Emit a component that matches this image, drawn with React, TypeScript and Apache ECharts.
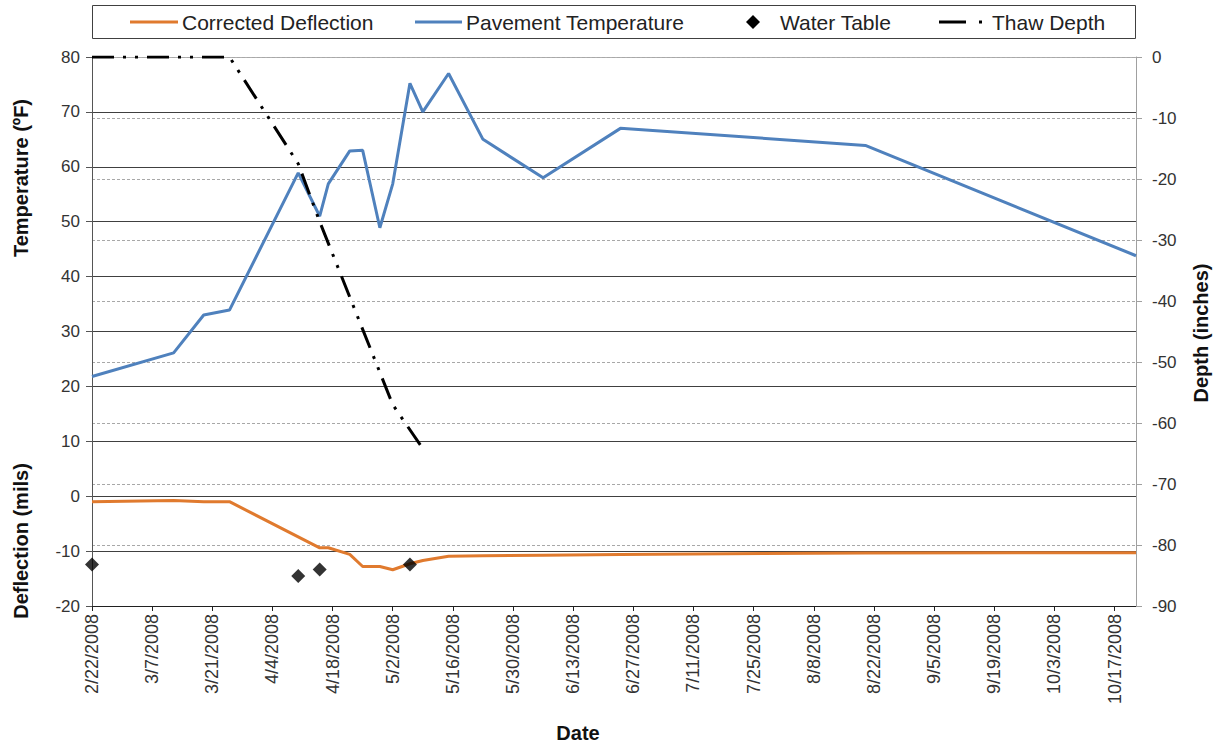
import React, { useEffect, useRef } from "react";
import * as echarts from "echarts";

const START_DATE = "2/22/2008";
const END_DATE = "10/22/2008";
const DAY_STEP = 14;

const tempDates = ["2/22/2008", "3/12/2008", "3/19/2008", "3/25/2008", "4/10/2008", "4/15/2008", "4/17/2008", "4/22/2008", "4/25/2008", "4/29/2008", "5/2/2008", "5/6/2008", "5/9/2008", "5/15/2008", "5/23/2008", "6/6/2008", "6/24/2008", "8/20/2008", "10/22/2008"];
const tempValues = [21.8, 26.1, 33, 33.9, 58.9, 51, 56.9, 62.9, 63, 48.9, 56.9, 75.2, 70, 77, 65, 58, 67, 63.9, 43.8];

const deflDates = ["2/22/2008", "3/12/2008", "3/19/2008", "3/25/2008", "4/15/2008", "4/17/2008", "4/22/2008", "4/25/2008", "4/29/2008", "5/2/2008", "5/6/2008", "5/9/2008", "5/15/2008", "5/23/2008", "6/6/2008", "6/24/2008", "8/20/2008", "10/22/2008"];
const deflValues = [-1.0, -0.8, -1.0, -1.0, -9.4, -9.4, -10.6, -12.8, -12.8, -13.4, -12.3, -11.7, -10.95, -10.85, -10.75, -10.6, -10.35, -10.3];

const waterDates = ["2/22/2008", "4/10/2008", "4/15/2008", "5/6/2008"];
const waterDepths = [-83.2, -85.1, -84.0, -83.2];

const thawDates = ["2/22/2008", "3/25/2008", "4/10/2008", "4/15/2008", "5/2/2008", "5/9/2008"];
const thawDepths = [0, 0, -17.5, -27, -57, -64.2];

const FONT = "'Liberation Sans', Arial, sans-serif";
const ORANGE = "#E07A2E";
const BLUE = "#4F81BD";

const utc = (s: string) => {
  const [m, d, y] = s.split("/").map(Number);
  return Date.UTC(y, m - 1, d);
};
const DAY_MS = 86400000;
const toDay = (s: string) => Math.round((utc(s) - utc(START_DATE)) / DAY_MS);
const fmtDay = (v: number) => {
  const dt = new Date(utc(START_DATE) + v * DAY_MS);
  return `${dt.getUTCMonth() + 1}/${dt.getUTCDate()}/${dt.getUTCFullYear()}`;
};
const pairs = (dates: string[], vals: number[]) => dates.map((d, i) => [toDay(d), vals[i]]);

export default function App() {
  const ref = useRef<HTMLDivElement>(null);
  useEffect(() => {
    if (!ref.current) return;
    const chart = echarts.init(ref.current, undefined, { renderer: "svg" });
    const leftGridColors = ["#404040", "#404040", "#404040", "#404040", "#404040", "#404040", "#404040", "#404040", "#404040", "#404040", "#b0b0b0"];
    chart.setOption({
      animation: false,
      backgroundColor: "#ffffff",
      textStyle: { fontFamily: FONT },
      grid: { left: 92, right: 81, top: 57, bottom: 142, containLabel: false },
      xAxis: {
        type: "value",
        min: 0,
        max: toDay(END_DATE),
        interval: DAY_STEP,
        axisLine: { show: true, onZero: false, lineStyle: { color: "#202020", width: 1 } },
        axisTick: { show: true, length: 5, lineStyle: { color: "#202020" } },
        axisLabel: {
          rotate: 90,
          margin: 8,
          fontSize: 18,
          color: "#333333",
          fontFamily: FONT,
          showMaxLabel: false,
          formatter: (v: number) => fmtDay(v),
        },
        splitLine: { show: false },
      },
      yAxis: [
        {
          type: "value",
          min: -20,
          max: 80,
          interval: 10,
          position: "left",
          axisLine: { show: true, lineStyle: { color: "#555555" } },
          axisTick: { show: true, length: 6, lineStyle: { color: "#555555" } },
          axisLabel: { fontSize: 17, color: "#333333", margin: 12, fontFamily: FONT },
          splitLine: { show: true, lineStyle: { color: leftGridColors, width: 1 } },
        },
        {
          type: "value",
          min: -90,
          max: 0,
          interval: 10,
          position: "right",
          axisLine: { show: true, lineStyle: { color: "#a0a0a0" } },
          axisTick: { show: true, length: 6, lineStyle: { color: "#a0a0a0" } },
          axisLabel: { fontSize: 17, color: "#333333", margin: 16, fontFamily: FONT },
          splitLine: { show: true, lineStyle: { color: "#a8a8a8", type: [3, 2], width: 1 } },
        },
      ],
      series: [
        {
          name: "Corrected Deflection",
          type: "line",
          yAxisIndex: 0,
          data: pairs(deflDates, deflValues),
          symbol: "none",
          lineStyle: { color: ORANGE, width: 3 },
          z: 3,
        },
        {
          name: "Pavement Temperature",
          type: "line",
          yAxisIndex: 0,
          data: pairs(tempDates, tempValues),
          symbol: "none",
          lineStyle: { color: BLUE, width: 3 },
          z: 4,
        },
        {
          name: "Water Table",
          type: "scatter",
          yAxisIndex: 1,
          data: pairs(waterDates, waterDepths),
          symbol: "diamond",
          symbolSize: [14, 14],
          itemStyle: { color: "#000000" },
          z: 5,
        },
        {
          name: "Thaw Depth",
          type: "line",
          yAxisIndex: 1,
          data: pairs(thawDates, thawDepths),
          symbol: "none",
          lineStyle: { color: "#000000", width: 3, type: [22, 9, 3, 9, 3, 9], cap: "butt" },
          z: 6,
        },
      ],
      graphic: [
        { type: "rect", shape: { x: 92.5, y: 5.5, width: 1043, height: 33 }, style: { fill: "#ffffff", stroke: "#404040", lineWidth: 1 }, z: 10 },
        { type: "line", shape: { x1: 130, y1: 22, x2: 178, y2: 22 }, style: { stroke: ORANGE, lineWidth: 3 }, z: 11 },
        { type: "text", x: 182, y: 22, style: { text: "Corrected Deflection", font: `21px ${FONT}`, fill: "#222222", textVerticalAlign: "middle", textAlign: "left" }, z: 11 },
        { type: "line", shape: { x1: 415, y1: 22, x2: 462, y2: 22 }, style: { stroke: BLUE, lineWidth: 3 }, z: 11 },
        { type: "text", x: 466, y: 22, style: { text: "Pavement Temperature", font: `21px ${FONT}`, fill: "#222222", textVerticalAlign: "middle", textAlign: "left" }, z: 11 },
        { type: "polygon", shape: { points: [[753, 15], [760, 22], [753, 29], [746, 22]] }, style: { fill: "#000000" }, z: 11 },
        { type: "text", x: 780, y: 22, style: { text: "Water Table", font: `21px ${FONT}`, fill: "#222222", textVerticalAlign: "middle", textAlign: "left" }, z: 11 },
        { type: "line", shape: { x1: 939, y1: 22, x2: 966, y2: 22 }, style: { stroke: "#000000", lineWidth: 3 }, z: 11 },
        { type: "rect", shape: { x: 979, y: 20.5, width: 3, height: 3 }, style: { fill: "#000000" }, z: 11 },
        { type: "text", x: 992, y: 22, style: { text: "Thaw Depth", font: `21px ${FONT}`, fill: "#222222", textVerticalAlign: "middle", textAlign: "left" }, z: 11 },
        { type: "text", x: 21, y: 178, rotation: Math.PI / 2, style: { text: "Temperature (ºF)", font: `bold 20px ${FONT}`, fill: "#111111", textAlign: "center", textVerticalAlign: "middle" } },
        { type: "text", x: 21, y: 541, rotation: Math.PI / 2, style: { text: "Deflection (mils)", font: `bold 20px ${FONT}`, fill: "#111111", textAlign: "center", textVerticalAlign: "middle" } },
        { type: "text", x: 1201, y: 333, rotation: Math.PI / 2, style: { text: "Depth (inches)", font: `bold 20px ${FONT}`, fill: "#111111", textAlign: "center", textVerticalAlign: "middle" } },
        { type: "text", x: 578, y: 733, style: { text: "Date", font: `bold 20px ${FONT}`, fill: "#111111", textAlign: "center", textVerticalAlign: "middle" } },
      ],
    });
    return () => chart.dispose();
  }, []);
  return (
    <div
      ref={ref}
      style={{ position: "absolute", left: 0, top: 0, width: 1217, height: 748, background: "#fff" }}
    />
  );
}
